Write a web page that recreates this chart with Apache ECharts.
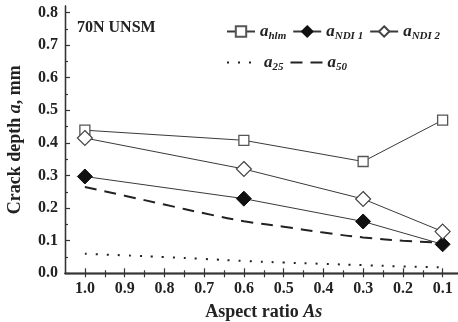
<!DOCTYPE html>
<html><head><meta charset="utf-8">
<script src="https://cdn.jsdelivr.net/npm/echarts@6/dist/echarts.min.js"></script>
<style>html,body{margin:0;padding:0;background:#fff}#c{width:458px;height:322px}</style>
</head><body><div id="c"></div>
<script>
const aspect = [1.0, 0.6, 0.3, 0.1];
const aHlm = [0.439, 0.408, 0.343, 0.470];
const aNdi1 = [0.297, 0.229, 0.159, 0.089];
const aNdi2 = [0.415, 0.320, 0.228, 0.128];
const aspectFine = [1.0, 0.9, 0.8, 0.7, 0.6, 0.5, 0.4, 0.3, 0.2, 0.1];
const a25 = [0.060, 0.055, 0.050, 0.044, 0.038, 0.033, 0.029, 0.025, 0.021, 0.018];
const a50 = [0.265, 0.238, 0.211, 0.184, 0.160, 0.143, 0.125, 0.110, 0.100, 0.094];
const xMajor = [1.0, 0.9, 0.8, 0.7, 0.6, 0.5, 0.4, 0.3, 0.2, 0.1];
const xMinor = [0.95, 0.85, 0.75, 0.65, 0.55, 0.45, 0.35, 0.25, 0.15];
const yMajor = [0.0, 0.1, 0.2, 0.3, 0.4, 0.5, 0.6, 0.7, 0.8];
const yMinor = [0.05, 0.15, 0.25, 0.35, 0.45, 0.55, 0.65, 0.75];

const serif = 'Liberation Serif';
const axisColor = '#333';
const lineColor = '#3a3a3a';
const pair = (xs, ys) => xs.map((x, i) => [x, ys[i]]);
const X_MIN = 0.05, X_MAX = 1.05, Y_MIN = 0, Y_MAX = 0.82;

function xAxisCfg(pos, ticks, len, labels) {
  return {
    type: 'value', position: pos, inverse: true, min: X_MIN, max: X_MAX,
    axisLine: { show: true, lineStyle: { color: axisColor, width: 1.3 } },
    axisTick: { show: true, inside: true, length: len, customValues: ticks, lineStyle: { color: axisColor, width: 1.2 } },
    axisLabel: labels ? { show: true, customValues: xMajor, margin: 8, fontFamily: serif, fontWeight: 'bold', fontSize: 16, color: '#222', formatter: v => v.toFixed(1) } : { show: false },
    splitLine: { show: false },
    name: labels ? '{n|Aspect ratio }{i|As}' : '',
    nameLocation: 'middle', nameGap: 30,
    nameTextStyle: { rich: {
      n: { fontFamily: serif, fontWeight: 'bold', fontSize: 18, color: '#222' },
      i: { fontFamily: serif, fontWeight: 'bold', fontStyle: 'italic', fontSize: 18, color: '#222' } } }
  };
}
function yAxisCfg(pos, ticks, len, labels) {
  return {
    type: 'value', position: pos, min: Y_MIN, max: Y_MAX,
    axisLine: { show: true, lineStyle: { color: axisColor, width: 1.3 } },
    axisTick: { show: true, inside: true, length: len, customValues: ticks, lineStyle: { color: axisColor, width: 1.2 } },
    axisLabel: labels ? { show: true, customValues: yMajor, margin: 7, fontFamily: serif, fontWeight: 'bold', fontSize: 16, color: '#222', formatter: v => v.toFixed(1) } : { show: false },
    splitLine: { show: false },
    name: labels ? '{n|Crack depth }{i|a}{n|, mm}' : '',
    nameLocation: 'middle', nameGap: 41,
    nameTextStyle: { rich: {
      n: { fontFamily: serif, fontWeight: 'bold', fontSize: 18, color: '#222' },
      i: { fontFamily: serif, fontWeight: 'bold', fontStyle: 'italic', fontSize: 18, color: '#222' } } }
  };
}

const legendText = {
  rich: {
    a: { fontFamily: serif, fontWeight: 'bold', fontStyle: 'italic', fontSize: 17, color: '#222' },
    s: { fontFamily: serif, fontWeight: 'bold', fontStyle: 'italic', fontSize: 11, color: '#222', padding: [9, 0, 0, 0] }
  }
};
const legendFmt = name => '{a|a}{s|' + name + '}';

const chart = echarts.init(document.getElementById('c'), null, { renderer: 'canvas' });
chart.setOption({
  animation: false,
  backgroundColor: '#fff',
  grid: { left: 65, top: 6, right: -4.5, bottom: 48.7, outerBoundsMode: 'none', containLabel: false },
  title: { text: '70N UNSM', left: 77, top: 20, padding: 0, textStyle: { fontFamily: serif, fontWeight: 'bold', fontSize: 16, color: '#222' } },
  legend: [
    { data: ['hlm', 'NDI 1', 'NDI 2'], left: 226, top: 23, itemWidth: 28, itemHeight: 13, itemGap: 6,
      formatter: legendFmt, textStyle: legendText, padding: 0, selectedMode: false },
    { data: ['25', '50'], left: 226, top: 54, itemWidth: 32, itemHeight: 14, itemGap: 6,
      itemStyle: { opacity: 0 },
      formatter: legendFmt, textStyle: legendText, padding: 0, selectedMode: false }
  ],
  xAxis: [
    xAxisCfg('bottom', xMajor, 5, true),
    xAxisCfg('top', xMajor.concat(xMinor), 4, false),
    xAxisCfg('bottom', xMinor, 3, false)
  ],
  yAxis: [
    yAxisCfg('left', yMajor, 5, true),
    yAxisCfg('right', yMajor.concat(yMinor), 4, false),
    yAxisCfg('left', yMinor, 3, false)
  ],
  series: [
    { name: 'hlm', type: 'line', data: pair(aspect, aHlm), symbol: 'rect', symbolSize: 10,
      lineStyle: { color: lineColor, width: 1 }, itemStyle: { color: '#fff', borderColor: '#555', borderWidth: 1.3 } },
    { name: 'NDI 1', type: 'line', data: pair(aspect, aNdi1), symbol: 'diamond', symbolSize: 15,
      lineStyle: { color: lineColor, width: 1 }, itemStyle: { color: '#111', borderColor: '#111', borderWidth: 1 } },
    { name: 'NDI 2', type: 'line', data: pair(aspect, aNdi2), symbol: 'diamond', symbolSize: 15,
      lineStyle: { color: lineColor, width: 1 }, itemStyle: { color: '#fff', borderColor: '#444', borderWidth: 1.2 } },
    { name: '25', type: 'line', data: pair(aspectFine, a25), smooth: true, symbol: 'none',
      lineStyle: { color: '#222', width: 2, type: [2, 9] }, itemStyle: { color: '#222' } },
    { name: '50', type: 'line', data: pair(aspectFine, a50), smooth: true, symbol: 'none',
      lineStyle: { color: '#222', width: 2, type: [12, 8] }, itemStyle: { color: '#222' } }
  ]
});
</script>
</body></html>
